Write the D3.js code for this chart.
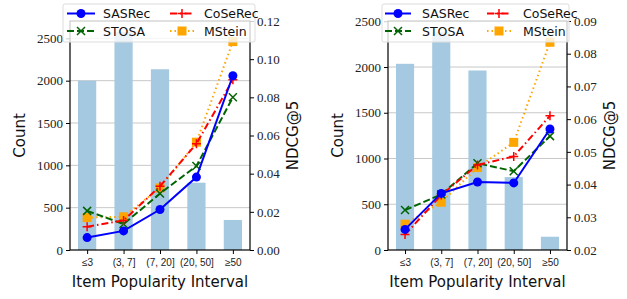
<!DOCTYPE html>
<html>
  <head>
    <meta charset="utf-8">
    <title>Item popularity interval</title>
    <script src="https://cdn.jsdelivr.net/npm/d3@7"></script>
    <style>
      body { margin: 0; background: #fff; }
      svg { display: block; }
      .tickNum { font-family: "Liberation Serif", serif; font-size: 13px; fill: #222; }
      .cat { font-family: "Liberation Sans", sans-serif; font-size: 10px; fill: #222; }
      .title { font-family: "DejaVu Sans", sans-serif; font-size: 15px; fill: #111; }
      .legendText { font-family: "DejaVu Sans", sans-serif; font-size: 12.5px; fill: #111; }
    </style>
  </head>
  <body>
    <svg id="chart" width="627" height="299"></svg>

    <script>
      // data
      categories = ["≤3", "(3, 7]", "(7, 20]", "(20, 50]", "≥50"];
      seriesNames = ["SASRec", "CoSeRec", "STOSA", "MStein"];

      // left panel
      countsA = [2000, 2575, 2135, 795, 355];
      sasrecA = [0.0065, 0.0100, 0.0212, 0.0382, 0.0913];
      coserecA = [0.0122, 0.0155, 0.0334, 0.0557, 0.0892];
      stosaA = [0.0205, 0.0136, 0.0296, 0.0440, 0.0800];
      msteinA = [0.0170, 0.0174, 0.0325, 0.0565, 0.1092];
      countTicksA = [0, 500, 1000, 1500, 2000, 2500];
      ndcgTicksA = [0, 0.02, 0.04, 0.06, 0.08, 0.10, 0.12];

      // right panel
      countsB = [2035, 2380, 1962, 797, 145];
      sasrecB = [0.0263, 0.0373, 0.0408, 0.0405, 0.0570];
      coserecB = [0.0247, 0.0368, 0.0460, 0.0486, 0.0610];
      stosaB = [0.0322, 0.0370, 0.0465, 0.0441, 0.0548];
      msteinB = [0.0279, 0.0346, 0.0452, 0.0529, 0.0835];
      countTicksB = [0, 500, 1000, 1500, 2000, 2500];
      ndcgTicksB = [0.02, 0.03, 0.04, 0.05, 0.06, 0.07, 0.08, 0.09];

      styles = {
        SASRec: { color: "#0000ff", dash: null, marker: "circle" },
        CoSeRec: { color: "#ff0000", dash: "7,3,1.5,3", marker: "plus" },
        STOSA: { color: "#006400", dash: "7,3", marker: "x" },
        MStein: { color: "#ffa500", dash: "1.5,3", marker: "square" }
      };

      chart = d3.select("#chart");

      drawPanel({
        left: 70, right: 250, top: 21, bottom: 250,
        counts: countsA, countMax: 2705, countTicks: countTicksA,
        ndcgDomain: [0, 0.12], ndcgTicks: ndcgTicksA, ndcgFormat: d3.format(".2f"),
        series: { SASRec: sasrecA, CoSeRec: coserecA, STOSA: stosaA, MStein: msteinA },
        legend: { x: 63, width: 192, handle: [67, 95, 170, 194], text: [103, 204] }
      });

      drawPanel({
        left: 388, right: 567, top: 21, bottom: 250,
        counts: countsB, countMax: 2503, countTicks: countTicksB,
        ndcgDomain: [0.02, 0.09], ndcgTicks: ndcgTicksB, ndcgFormat: d3.format(".2f"),
        series: { SASRec: sasrecB, CoSeRec: coserecB, STOSA: stosaB, MStein: msteinB },
        legend: { x: 382, width: 187, handle: [385, 411, 487, 511], text: [422, 523] }
      });

      function drawPanel(p) {
        g = chart.append("g");

        x = d3.scaleLinear()
          .domain([-0.47, 4.47])
          .range([p.left, p.right]);
        yCount = d3.scaleLinear()
          .domain([0, p.countMax])
          .range([p.bottom, p.top]);
        yNdcg = d3.scaleLinear()
          .domain(p.ndcgDomain)
          .range([p.bottom, p.top]);

        // gridlines
        g.append("g")
          .selectAll("line")
          .data(p.countTicks.filter(d => d > 0))
          .join("line")
          .attr("x1", p.left).attr("x2", p.right)
          .attr("y1", d => yCount(d)).attr("y2", d => yCount(d))
          .attr("stroke", "#c8c8c8")
          .attr("stroke-width", 1);

        // bars
        barWidth = x(0.5) - x(0);
        g.append("g")
          .selectAll("rect")
          .data(p.counts)
          .join("rect")
          .attr("x", (d, i) => x(i) - barWidth / 2)
          .attr("width", barWidth)
          .attr("y", d => yCount(d))
          .attr("height", d => p.bottom - yCount(d))
          .attr("fill", "#a5c9e1");

        // lines
        line = d3.line()
          .x((d, i) => x(i))
          .y(d => yNdcg(d));
        order = ["MStein", "STOSA", "CoSeRec", "SASRec"];
        order.forEach(name => {
          s = styles[name];
          vals = p.series[name];
          g.append("path")
            .attr("d", line(vals))
            .attr("fill", "none")
            .attr("stroke", s.color)
            .attr("stroke-width", 2)
            .attr("stroke-dasharray", s.dash);
          vals.forEach((v, i) => drawMarker(g, s, x(i), yNdcg(v)));
        });

        // frame
        g.append("rect")
          .attr("x", p.left).attr("y", p.top)
          .attr("width", p.right - p.left).attr("height", p.bottom - p.top)
          .attr("fill", "none")
          .attr("stroke", "#000")
          .attr("stroke-width", 1.2);

        // left axis
        yAxisL = d3.axisLeft(yCount)
          .tickValues(p.countTicks)
          .tickFormat(d3.format("d"))
          .tickSize(4)
          .tickPadding(3);
        gl = g.append("g")
          .attr("transform", "translate(" + p.left + ",0)")
          .call(yAxisL);
        gl.select(".domain").remove();
        gl.selectAll("text").attr("class", "tickNum").attr("fill", null);

        // right axis
        yAxisR = d3.axisRight(yNdcg)
          .tickValues(p.ndcgTicks)
          .tickFormat(p.ndcgFormat)
          .tickSize(4)
          .tickPadding(3);
        gr = g.append("g")
          .attr("transform", "translate(" + p.right + ",0)")
          .call(yAxisR);
        gr.select(".domain").remove();
        gr.selectAll("text").attr("class", "tickNum").attr("fill", null);

        // bottom axis
        xAxis = d3.axisBottom(x)
          .tickValues(d3.range(categories.length))
          .tickFormat(i => categories[i])
          .tickSize(4)
          .tickPadding(5);
        gb = g.append("g")
          .attr("transform", "translate(0," + p.bottom + ")")
          .call(xAxis);
        gb.select(".domain").remove();
        gb.selectAll("text").attr("class", "cat").attr("fill", null);

        // titles
        mid = (p.left + p.right) / 2;
        g.append("text")
          .attr("class", "title")
          .attr("x", mid).attr("y", 287)
          .attr("text-anchor", "middle")
          .text("Item Popularity Interval");
        g.append("text")
          .attr("class", "title")
          .attr("transform", "translate(" + (p.left - 45) + "," + ((p.top + p.bottom) / 2) + ") rotate(-90)")
          .attr("text-anchor", "middle")
          .text("Count");
        g.append("text")
          .attr("class", "title")
          .attr("transform", "translate(" + (p.right + 48) + "," + ((p.top + p.bottom) / 2) + ") rotate(-90)")
          .attr("text-anchor", "middle")
          .text("NDCG@5");

        // legend
        lg = g.append("g");
        lg.append("rect")
          .attr("x", p.legend.x).attr("y", 4)
          .attr("width", p.legend.width).attr("height", 38)
          .attr("rx", 2)
          .attr("fill", "#fff").attr("fill-opacity", 0.8)
          .attr("stroke", "#ddd");
        legendItems = [
          { name: "SASRec", col: 0, row: 0 },
          { name: "STOSA", col: 0, row: 1 },
          { name: "CoSeRec", col: 1, row: 0 },
          { name: "MStein", col: 1, row: 1 }
        ];
        legendItems.forEach(item => {
          s = styles[item.name];
          yy = 13.5 + item.row * 17.5;
          x0 = p.legend.handle[item.col * 2];
          x1 = p.legend.handle[item.col * 2 + 1];
          lg.append("line")
            .attr("x1", x0).attr("x2", x1)
            .attr("y1", yy).attr("y2", yy)
            .attr("stroke", s.color)
            .attr("stroke-width", 2)
            .attr("stroke-dasharray", s.dash);
          drawMarker(lg, s, (x0 + x1) / 2, yy);
          lg.append("text")
            .attr("class", "legendText")
            .attr("x", p.legend.text[item.col])
            .attr("y", yy + 4.5)
            .text(item.name);
        });
      }

      function drawMarker(sel, s, cx, cy) {
        if (s.marker == "circle") {
          sel.append("circle")
            .attr("cx", cx).attr("cy", cy).attr("r", 4.5)
            .attr("fill", s.color);
        } else if (s.marker == "square") {
          sel.append("rect")
            .attr("x", cx - 4.5).attr("y", cy - 4.5)
            .attr("width", 9).attr("height", 9)
            .attr("fill", s.color);
        } else if (s.marker == "plus") {
          sel.append("path")
            .attr("d", "M" + (cx - 4.5) + "," + cy + "H" + (cx + 4.5) + "M" + cx + "," + (cy - 4.5) + "V" + (cy + 4.5))
            .attr("stroke", s.color).attr("stroke-width", 1.5);
        } else {
          sel.append("path")
            .attr("d", "M" + (cx - 4) + "," + (cy - 4) + "L" + (cx + 4) + "," + (cy + 4) + "M" + (cx - 4) + "," + (cy + 4) + "L" + (cx + 4) + "," + (cy - 4))
            .attr("stroke", s.color).attr("stroke-width", 1.5);
        }
      }
    </script>
  </body>
</html>
